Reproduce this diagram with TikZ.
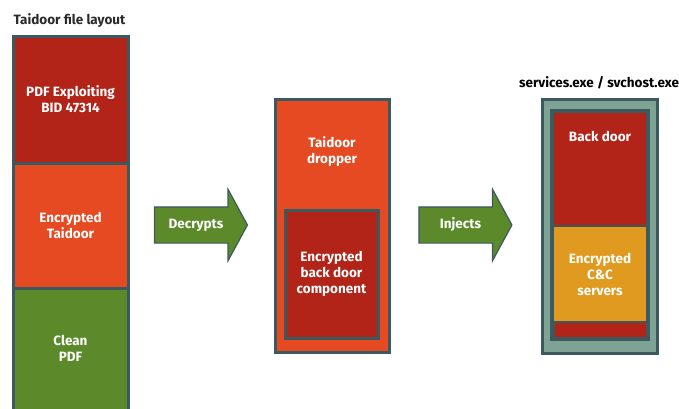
\documentclass[tikz,border=0pt]{standalone}
\usepackage{fontspec}
\setmainfont{Fira Sans}
\usetikzlibrary{shapes.arrows}

\definecolor{slate}{HTML}{3A5A60}
\definecolor{pdfred}{HTML}{B22318}
\definecolor{taiorange}{HTML}{E64A22}
\definecolor{cleangreen}{HTML}{5C8A2A}
\definecolor{ccgold}{HTML}{E09A20}
\definecolor{hostgrey}{HTML}{7EA394}
\definecolor{titlegrey}{HTML}{2A2A2A}

\tikzset{
  part/.style={draw=slate, line width=3pt, text=white, align=center,
    font=\fontsize{13.5}{16}\selectfont\bfseries, inner sep=0pt},
  flowarrow/.style={single arrow, draw=slate, line width=1.2pt, fill=cleangreen,
    text=white, font=\fontsize{13.5}{16}\selectfont\bfseries,
    text height=9.5pt, text depth=2.5pt, inner xsep=0pt, inner ysep=11.5pt,
    minimum height=93pt, single arrow head extend=17.5pt,
    single arrow tip angle=123}
}

\begin{document}
\begin{tikzpicture}[x=1pt,y=-1pt]

    % Fix the picture size to the reference
    \useasboundingbox (0,0) rectangle (679,408);

    % Title of the file layout
    \node[anchor=west, text=titlegrey, font=\fontsize{13.5}{16}\selectfont\bfseries]
      (layouttitle) at (10,21) {Taidoor file layout};

    % Left column: the three parts of the file
    \node[part, fill=pdfred, minimum width=115pt, minimum height=127pt]
      (pdfpart) at (70.5,99.5) {PDF Exploiting\\BID 47314};
    \node[part, fill=taiorange, minimum width=115pt, minimum height=125pt]
      (taidoorpart) at (70.5,225.5) {Encrypted\\Taidoor};
    \node[part, fill=cleangreen, minimum width=115pt, minimum height=140pt]
      (cleanpart) at (70.5,358) {};
    \node[text=white, align=center, font=\fontsize{13.5}{16}\selectfont\bfseries]
      (cleantext) at (70.5,348) {Clean\\PDF};

    % First step
    \node[flowarrow] (decrypts) at (196,225) {Decrypts};

    % Middle column: the dropper
    \node[part, fill=taiorange, minimum width=114pt, minimum height=253pt]
      (dropper) at (332,225.5) {};
    \node[text=white, align=center, font=\fontsize{13.5}{16}\selectfont\bfseries]
      (droppertext) at (332,152) {Taidoor\\dropper};
    \node[part, fill=pdfred, minimum width=93pt, minimum height=128pt]
      (backdoorenc) at (331.5,274) {Encrypted\\back door\\component};

    % Second step
    \node[flowarrow] (injects) at (460.5,225) {Injects};

    % Right column: the host process
    \node[font=\fontsize{13.5}{16}\selectfont\bfseries, text=black]
      (hosttitle) at (599,83) {services.exe / svchost.exe};
    \node[part, fill=hostgrey, minimum width=115pt, minimum height=254pt]
      (hostbox) at (599.5,226) {};
    \node[part, fill=pdfred, minimum width=94pt, minimum height=226pt]
      (hostinner) at (600,225) {};
    \node[part, line width=2pt, fill=pdfred, minimum width=94pt, minimum height=114pt]
      (backdoor) at (600,169) {};
    \node[text=white, font=\fontsize{13.5}{16}\selectfont\bfseries]
      (backdoortext) at (600,136) {Back door};
    \node[part, line width=2pt, fill=ccgold, minimum width=94pt, minimum height=96pt]
      (ccservers) at (600,274) {Encrypted\\C\&C\\servers};
    \draw[slate, line width=3pt] (hostinner.north west) rectangle (hostinner.south east);

\end{tikzpicture}
\end{document}
